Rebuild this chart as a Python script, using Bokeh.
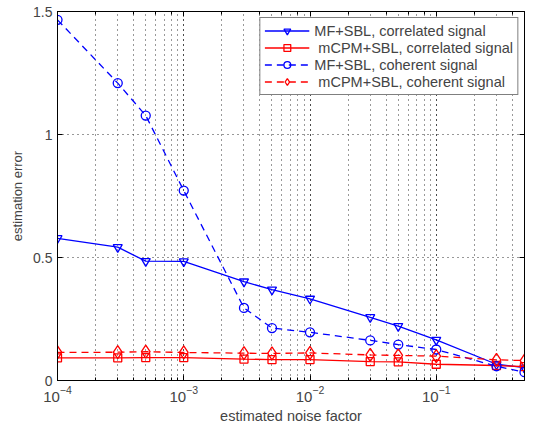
from bokeh.plotting import figure
from bokeh.models import Legend, LegendItem, LogAxis, LinearAxis, Range1d, FixedTicker, CustomJSTickFormatter
from bokeh.embed import file_html
from bokeh.resources import INLINE

noise = [1e-4, 3e-4, 5e-4, 1e-3, 3e-3, 5e-3, 1e-2, 3e-2, 5e-2, 1e-1, 3e-1, 5e-1]
mf_corr = [0.578, 0.542, 0.485, 0.484, 0.402, 0.369, 0.332, 0.257, 0.221, 0.165, 0.066, 0.052]
mcpm_corr = [0.092, 0.092, 0.093, 0.093, 0.087, 0.085, 0.085, 0.077, 0.076, 0.066, 0.061, 0.056]
mf_coh = [1.466, 1.209, 1.077, 0.772, 0.295, 0.213, 0.196, 0.163, 0.146, 0.126, 0.058, 0.034]
mcpm_coh = [0.114, 0.115, 0.117, 0.114, 0.111, 0.110, 0.112, 0.104, 0.102, 0.099, 0.084, 0.081]
labels = ["MF+SBL, correlated signal", " mCPM+SBL, correlated signal",
          "MF+SBL, coherent signal", " mCPM+SBL, coherent signal"]
y_ticks = [0, 0.5, 1, 1.5]

FONT = "Liberation Sans"
BLUE = "#0000ff"
RED = "#ff0000"

p = figure(frame_width=467, frame_height=369, x_axis_type="log",
           x_range=Range1d(1e-4, 0.5), y_range=Range1d(0, 1.5),
           output_backend="svg", toolbar_location=None,
           min_border_left=57, min_border_right=24, min_border_top=11, min_border_bottom=43)

series = [
    (mf_corr, BLUE, "solid", "inverted_triangle", 9),
    (mcpm_corr, RED, "solid", "square", 8),
    (mf_coh, BLUE, "7 5", "circle", 9),
    (mcpm_coh, RED, "7 5", "diamond", 13),
]
items = []
for (vals, col, dash, mk, sz), lab in zip(series, labels):
    l = p.line(noise, vals, line_color=col, line_width=1.3, line_dash=dash)
    s = p.scatter(noise, vals, marker=mk, size=sz, line_color=col, line_width=1.3, fill_color=None)
    items.append(LegendItem(label=lab, renderers=[l, s]))

legend = Legend(items=items, location="top_right",
                label_text_font=FONT, label_text_font_size="14.5px",
                glyph_width=45, glyph_height=17, label_height=17, spacing=0,
                padding=4, margin=6, label_standoff=5,
                border_line_color="black", border_line_width=1,
                background_fill_alpha=1)
p.add_layout(legend, "center")

p.outline_line_color = "black"
p.outline_line_width = 1
p.background_fill_color = "white"

for ax in [p.xaxis[0], p.yaxis[0]]:
    ax.major_label_text_font = FONT
    ax.major_label_text_font_size = "14px"
    ax.axis_label_text_font = FONT
    ax.axis_label_text_font_style = "normal"
    ax.major_tick_in = 5
    ax.major_tick_out = 0
    ax.minor_tick_in = 3
    ax.minor_tick_out = 0
    ax.axis_line_color = "black"

p.xaxis.major_label_text_font_size = "15px"
p.xaxis.axis_label = "estimated noise factor"
p.xaxis.axis_label_text_font_size = "14.5px"
p.xaxis.axis_label_standoff = 3
p.yaxis.axis_label = "estimation error"
p.yaxis.axis_label_text_font_size = "13px"
p.yaxis.ticker = FixedTicker(ticks=y_ticks)
p.yaxis.minor_tick_line_color = None

top = LogAxis(formatter=CustomJSTickFormatter(code="return ''"), major_tick_in=5, major_tick_out=0,
              minor_tick_in=3, minor_tick_out=0)
right = LinearAxis(formatter=CustomJSTickFormatter(code="return ''"), major_tick_in=5, major_tick_out=0,
                   ticker=FixedTicker(ticks=y_ticks))
right.minor_tick_line_color = None
p.add_layout(top, "above")
p.add_layout(right, "right")

p.xgrid.grid_line_color = "#333333"
p.xgrid.grid_line_dash = "1 4"
p.xgrid.minor_grid_line_color = "#333333"
p.xgrid.minor_grid_line_dash = "1 4"
p.ygrid.grid_line_color = "#333333"
p.ygrid.grid_line_dash = "1 4"
p.ygrid.ticker = FixedTicker(ticks=y_ticks)

open("out.html", "w").write(file_html(p, INLINE))
